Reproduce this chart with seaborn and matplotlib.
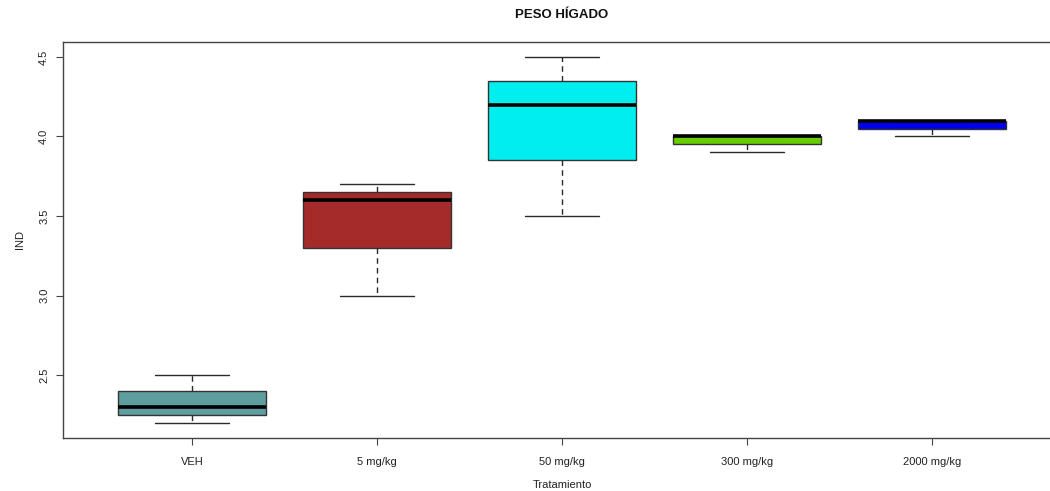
import numpy as np
import pandas as pd
import matplotlib
matplotlib.use("Agg")
import matplotlib.pyplot as plt
import seaborn as sns

# Liver weight index per treatment group (five animals each)
groups = ["VEH", "5 mg/kg", "50 mg/kg", "300 mg/kg", "2000 mg/kg"]
veh = [2.20, 2.25, 2.30, 2.40, 2.50]
dose_5 = [3.00, 3.30, 3.60, 3.65, 3.70]
dose_50 = [3.50, 3.85, 4.20, 4.35, 4.50]
dose_300 = [3.90, 3.95, 4.00, 4.00, 4.00]
dose_2000 = [4.00, 4.05, 4.10, 4.10, 4.10]
colors = ["#5F9EA0", "#A52A2A", "#00EEEE", "#66CD00", "#0000EE"]
y_ticks = [2.5, 3.0, 3.5, 4.0, 4.5]

df = pd.DataFrame({
    "Tratamiento": np.repeat(groups, 5),
    "IND": veh + dose_5 + dose_50 + dose_300 + dose_2000,
})

sns.set_theme(style="white")
plt.rcParams["font.family"] = ["Liberation Sans", "DejaVu Sans"]

fig = plt.figure(figsize=(10.5, 4.91), dpi=100)
ax = fig.add_axes([63 / 1050, 1 - 437.5 / 491, (1061 - 63) / 1050, (437.5 - 42.3) / 491])

line_col = "#2a2a2a"
sns.boxplot(
    data=df, x="Tratamiento", y="IND", hue="Tratamiento",
    order=groups, hue_order=groups, palette=colors, saturation=1,
    width=0.8, whis=1.5, fliersize=0, legend=False,
    linecolor=line_col, linewidth=1.0,
    medianprops=dict(color="black", linewidth=2.6),
    whiskerprops=dict(color=line_col, linestyle=(0, (4, 3)), linewidth=1.0),
    capprops=dict(color=line_col, linewidth=1.0),
    boxprops=dict(edgecolor="#333333", linewidth=1.0),
    ax=ax,
)

ax.set_xlim(-0.7, 4.7)
ax.set_ylim(2.108, 4.592)
ax.set_yticks(y_ticks)
ax.set_yticklabels([f"{v:.1f}" for v in y_ticks], rotation=90, va="center")
ax.tick_params(axis="both", which="both", direction="out", length=5, width=0.8,
               color="#444444", labelsize=8, labelcolor="#222222",
               bottom=True, left=True, top=False, right=False)
ax.tick_params(axis="y", pad=5)
ax.tick_params(axis="x", pad=9)
for side in ax.spines.values():
    side.set_visible(True)
    side.set_color("#444444")
    side.set_linewidth(1.0)

ax.set_xlabel("")
ax.set_ylabel("IND", fontsize=8, color="#222222", labelpad=10)
fig.text(562 / 1050, 1 - 485 / 491, "Tratamiento", ha="center", va="center",
         fontsize=8, color="#222222")
fig.text(562 / 1050, 1 - 15 / 491, "PESO HÍGADO", ha="center", va="center",
         fontsize=9.5, fontweight="bold", color="#111111")

fig.savefig("out.png", dpi=100, facecolor="white")
